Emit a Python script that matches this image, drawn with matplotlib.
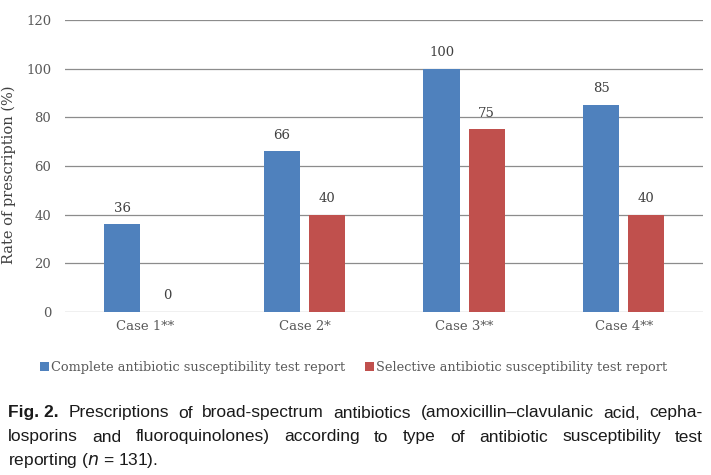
import numpy as np
import matplotlib.pyplot as plt

# datos del grafico
casos = ["Case 1**", "Case 2*", "Case 3**", "Case 4**"]
completo = [36, 66, 100, 85]
selectivo = [0, 40, 75, 40]
series = ["Complete antibiotic susceptibility test report",
          "Selective antibiotic susceptibility test report"]
colores = ["#4f81bd", "#c0504d"]
yticks = [0, 20, 40, 60, 80, 100, 120]

fig = plt.figure(figsize=(7.11, 4.75), dpi=100)
ax = fig.add_axes([0.0914, 0.343, 0.898, 0.615])

fuente = "DejaVu Serif"
gris = "#595959"

x = np.arange(len(casos))
ancho = 0.226
desp = 0.141
b1 = ax.bar(x - desp, completo, ancho, color=colores[0], zorder=3)
b2 = ax.bar(x + desp, selectivo, ancho, color=colores[1], zorder=3)

for barras, vals in [(b1, completo), (b2, selectivo)]:
    for b, v in zip(barras, vals):
        ax.annotate(str(v), (b.get_x() + b.get_width() / 2, v),
                    xytext=(0, 7), textcoords="offset points",
                    ha="center", va="bottom", fontsize=9.5,
                    family=fuente, color="#404040")

ax.set_xlim(-0.5, len(casos) - 0.5)
ax.set_ylim(0, 120)
ax.set_yticks(yticks)
ax.set_xticks(x)
ax.set_xticklabels(casos, family=fuente, fontsize=9.5, color=gris)
ax.set_yticklabels([str(t) for t in yticks], family=fuente, fontsize=9.5, color=gris)
ax.tick_params(axis="y", length=0, pad=10)
ax.tick_params(axis="x", length=0, pad=6)
ax.grid(axis="y", color="#8c8c8c", linewidth=0.9, zorder=0)
for s in ax.spines.values():
    s.set_visible(False)
ax.set_ylabel("Rate of prescription (%)", family=fuente, fontsize=10.5, color="#404040")
ax.yaxis.set_label_coords(-0.076, 0.47)

# leyenda
leg = fig.legend([b1, b2], series, loc="center", bbox_to_anchor=(0.497, 0.227),
                 ncol=2, frameon=False, handlelength=0.7, handleheight=0.7,
                 handletextpad=0.15, columnspacing=1.5, borderpad=0,
                 prop={"family": fuente, "size": 9.3})
for t in leg.get_texts():
    t.set_color(gris)

# pie de figura justificado
lineas = [
    [("Fig. 2.", "bold"), ("Prescriptions", "normal"), ("of", "normal"), ("broad-spectrum", "normal"),
     ("antibiotics", "normal"), ("(amoxicillin\u2013clavulanic", "normal"), ("acid,", "normal"),
     ("cepha-", "normal")],
    [("losporins", "normal"), ("and", "normal"), ("fluoroquinolones)", "normal"), ("according", "normal"),
     ("to", "normal"), ("type", "normal"), ("of", "normal"), ("antibiotic", "normal"),
     ("susceptibility", "normal"), ("test", "normal")],
]
fam_pie = "Liberation Sans"
x0, x1 = 8 / 711, 703 / 711
ys = [1 - 413 / 475, 1 - 437 / 475]
fig.canvas.draw()
r = fig.canvas.get_renderer()

# ajustar el tamano para que la primera linea quepa
prueba = fig.text(0, 0, " ".join(w for w, _ in lineas[0]) + " ", fontsize=12, family=fam_pie)
w_prueba = prueba.get_window_extent(r).width
prueba.remove()
tam_pie = min(12.5, 12 * 695 / w_prueba)

for linea, yy in zip(lineas, ys):
    textos = [fig.text(0, yy, w, fontsize=tam_pie, family=fam_pie, weight=wt,
                       color="#1a1a1a", va="center", ha="left") for w, wt in linea]
    anchos = [t.get_window_extent(r).width / fig.bbox.width for t in textos]
    hueco = (x1 - x0 - sum(anchos)) / (len(textos) - 1)
    pos = x0
    for t, a in zip(textos, anchos):
        t.set_x(pos)
        pos += a + hueco
fig.text(x0, 1 - 461 / 475, "reporting ($n$ = 131).", fontsize=tam_pie,
         family=fam_pie, color="#1a1a1a", va="center", ha="left")

plt.savefig("out.png", dpi=100)
